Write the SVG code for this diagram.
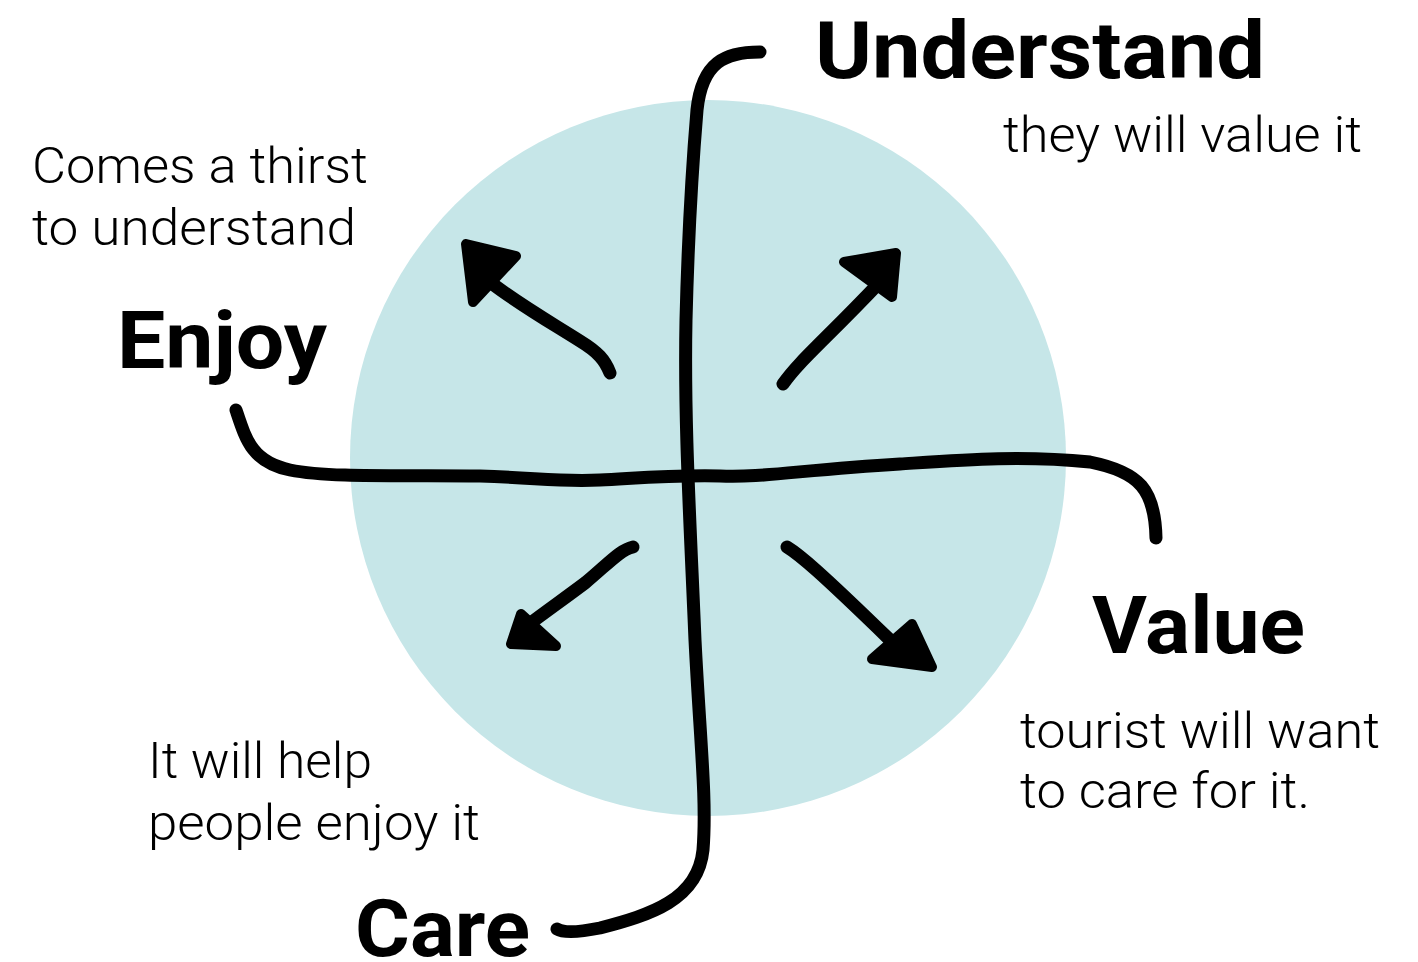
<svg xmlns="http://www.w3.org/2000/svg" width="1418" height="962" viewBox="0 0 1418 962">
<style>
.lbl{font-family:Roboto,"Liberation Sans",sans-serif;font-weight:700;font-size:80px;fill:#000}
.txt{font-family:Roboto,"Liberation Sans",sans-serif;font-weight:300;font-size:50px;fill:#000}
.ln{fill:none;stroke:#000;stroke-width:13;stroke-linecap:round;stroke-linejoin:round}
.hd{fill:#000;stroke:#000;stroke-width:10;stroke-linejoin:round}
</style>
<rect width="1418" height="962" fill="#fff"/>
<g id="circle"><circle cx="708" cy="458" r="358" fill="#c6e6e8"/></g>
<g id="connectors">
<path class="ln" d="M760,52 C725,52 702,62 697,110 C692,170 688,240 686,320 C684,420 690,520 695,640 C700,740 707,800 703,850 C698,900 650,915 600,928 C585,931 565,934 557,929"/>
<path class="ln" d="M236,410 C246,440 252,462 290,470 C330,478 400,475 480,476 C540,478 560,482 600,480 C640,478 670,475 720,476 C760,478 800,470 900,464 C960,460 1020,455 1090,462 C1140,472 1155,490 1156,538"/>
<path class="ln" d="M610,373 C605,360 598,352 580,341 C550,322 520,305 490,282"/>
<polygon class="hd" points="466,244 516,256 473,302"/>
<path class="ln" d="M783,384 C800,360 825,340 880,282"/>
<polygon class="hd" points="844,262 896,253 892,297"/>
<path class="ln" d="M633,547 C620,550 610,562 585,583 C565,598 548,610 528,625"/>
<polygon class="hd" points="521,614 511,644 556,646"/>
<path class="ln" d="M787,547 C800,555 820,572 890,640"/>
<polygon class="hd" points="912,624 872,659 932,667"/>
</g>
<g id="understand"><text class="lbl" x="815" y="78" textLength="450" lengthAdjust="spacingAndGlyphs">Understand</text><text class="txt" x="1003" y="152" textLength="359" lengthAdjust="spacingAndGlyphs">they will value it</text></g>
<g id="enjoy"><text class="lbl" x="117" y="368" textLength="210" lengthAdjust="spacingAndGlyphs">Enjoy</text><text class="txt" x="32" y="183" textLength="336" lengthAdjust="spacingAndGlyphs">Comes a thirst</text><text class="txt" x="32" y="245" textLength="324" lengthAdjust="spacingAndGlyphs">to understand</text></g>
<g id="value"><text class="lbl" x="1092" y="653" textLength="213" lengthAdjust="spacingAndGlyphs">Value</text><text class="txt" x="1020" y="748" textLength="360" lengthAdjust="spacingAndGlyphs">tourist will want</text><text class="txt" x="1020" y="808" textLength="290" lengthAdjust="spacingAndGlyphs">to care for it.</text></g>
<g id="care"><text class="lbl" x="355" y="956" textLength="175" lengthAdjust="spacingAndGlyphs">Care</text><text class="txt" x="148" y="778" textLength="224" lengthAdjust="spacingAndGlyphs">It will help</text><text class="txt" x="148" y="840" textLength="332" lengthAdjust="spacingAndGlyphs">people enjoy it</text></g>
</svg>
